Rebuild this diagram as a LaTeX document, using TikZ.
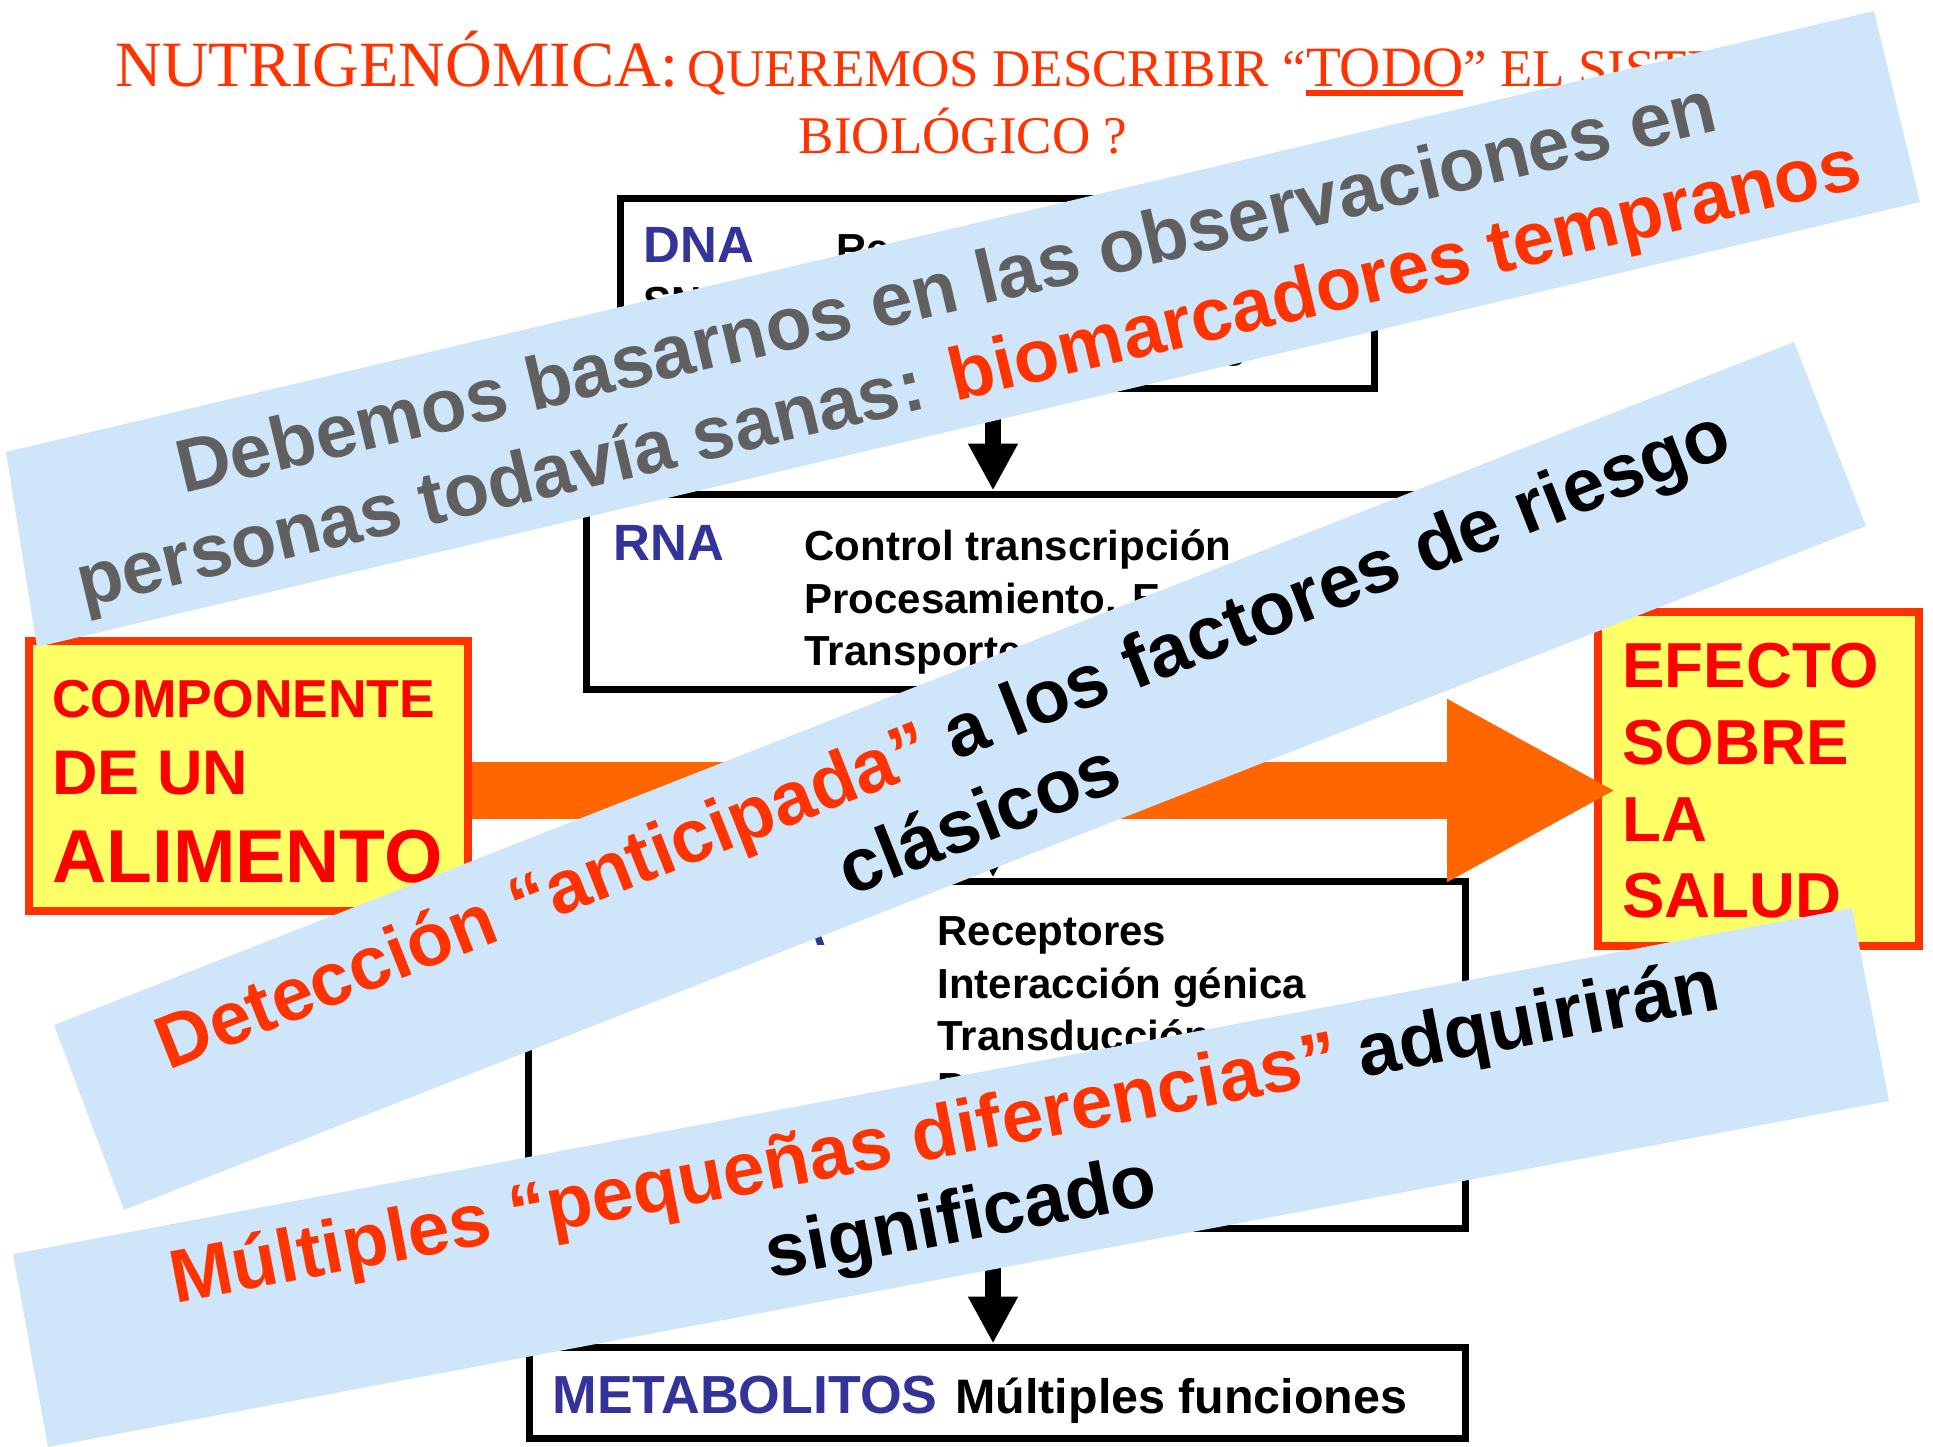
\documentclass[tikz,border=0pt]{standalone}
\usepackage{fontspec}
\setmainfont{Liberation Serif}
\newfontfamily\hv{Liberation Sans}
\usetikzlibrary{arrows.meta}
\definecolor{bandblue}{RGB}{207,230,250}
\definecolor{redor}{RGB}{255,51,0}
\definecolor{lblue}{RGB}{51,51,153}
\definecolor{yel}{RGB}{255,255,102}
\definecolor{pure}{RGB}{255,0,0}
\definecolor{orng}{RGB}{255,102,0}
\definecolor{gry}{RGB}{96,96,96}
\newcommand\myul[1]{\sbox0{#1}\rlap{\rule[-5pt]{\wd0}{2.8pt}}\usebox0}
\begin{document}
\begin{tikzpicture}[x=0.5pt,y=-0.5pt,
  flow/.style={draw=black,line width=3.5pt,fill=white,inner sep=0pt,rectangle},
  ybox/.style={draw=redor,line width=4pt,fill=yel,inner sep=0pt,rectangle},
  txt/.style={inner sep=0pt,anchor=base west,font=\hv\bfseries\fontsize{21pt}{25pt}\selectfont},
  lab/.style={inner sep=0pt,anchor=base west,text=lblue,font=\hv\bfseries\fontsize{25.5pt}{30pt}\selectfont},
  ytxt/.style={inner sep=0pt,anchor=base west,text=pure},
  bt/.style={inner sep=0pt,anchor=base,font=\hv\bfseries\fontsize{37.5pt}{45pt}\selectfont},
  blk/.style={line width=8pt,-{Triangle[length=23.5pt,width=23.5pt]}},
]
\useasboundingbox (0,0) rectangle (1933,1446);
\fill[white] (0,0) rectangle (1933,1446);

% title
\node[inner sep=0pt,anchor=base west,text=redor] (t1) at (115,86)
  {\fontsize{32.3pt}{39pt}\selectfont NUTRIGENÓMICA:\fontsize{26.5pt}{32pt}\selectfont\hspace{4.5pt}QUEREMOS DESCRIBIR “{\fontsize{28.5pt}{34pt}\selectfont\myul{TODO}}” EL SISTEMA};
\node[inner sep=0pt,anchor=base,text=redor,font=\fontsize{26.5pt}{32pt}\selectfont] (t2) at (963,153) {BIOLÓGICO ?};

% flow boxes
\node[flow,minimum width=377pt,minimum height=95pt] (dna) at (997,293) {};
\node[flow,minimum width=420pt,minimum height=97.5pt] (rna) at (1006,591.5) {};
\node[flow,minimum width=468.5pt,minimum height=173.5pt] (prot) at (996.5,1054.5) {};
\node[flow,minimum width=468pt,minimum height=45.5pt] (met) at (997,1392.5) {};

\node[lab] (dnal) at (643,262) {DNA};
\node[txt] (dn1) at (836,263) {Re};
\node[txt] (dn2) at (643,316) {SN};
\node[txt] (dn3) at (1221,357) {g};

\node[lab] (rnal) at (613,560) {RNA};
\node[txt] (r1) at (804,560) {Control transcripción};
\node[txt] (r2) at (804,613) {Procesamiento. E};
\node[txt] (r3) at (804,665) {Transporte};

\node[lab] (pl) at (562,945) {PROTEÍNA};
\node[txt] (p1) at (937,945) {Receptores};
\node[txt] (p2) at (937,998) {Interacción génica};
\node[txt] (p3) at (937,1050) {Transducción};
\node[txt] (p4) at (937,1102) {P};

\node[inner sep=0pt,anchor=base west,font=\hv\bfseries] (ml) at (552,1413)
  {\fontsize{26.8pt}{31pt}\selectfont\textcolor{lblue}{METABOLITOS}\hspace{9pt}\fontsize{24.2pt}{28pt}\selectfont Múltiples funciones};

% arrows
\coordinate (ax) at (993,0);
\draw[blk] (ax |- dna.south) -- (ax |- rna.north);
\draw[blk] (ax |- rna.south) -- (ax |- prot.north);
\draw[blk] (ax |- prot.south) -- (ax |- met.north);

% yellow boxes
\node[ybox,minimum width=219.5pt,minimum height=135pt] (comp) at (248.5,776) {};
\node[ytxt,font=\hv\bfseries\fontsize{26.7pt}{32pt}\selectfont] (c1) at (52,717) {COMPONENTE};
\node[ytxt,font=\hv\bfseries\fontsize{31.5pt}{38pt}\selectfont] (c2) at (52,794) {DE UN};
\node[ytxt,font=\hv\bfseries\fontsize{37.5pt}{45pt}\selectfont] (c3) at (52,882) {ALIMENTO};

\node[ybox,minimum width=160.5pt,minimum height=167pt] (efe) at (1758.5,779) {};
\node[ytxt,font=\hv\bfseries\fontsize{31.8pt}{38pt}\selectfont] (e1) at (1622,687) {EFECTO};
\node[ytxt,font=\hv\bfseries\fontsize{31.8pt}{38pt}\selectfont] (e2) at (1622,764) {SOBRE};
\node[ytxt,font=\hv\bfseries\fontsize{31.8pt}{38pt}\selectfont] (e3) at (1622,841) {LA};
\node[ytxt,font=\hv\bfseries\fontsize{31.8pt}{38pt}\selectfont] (e4) at (1622,917) {SALUD};

% orange arrow
\coordinate (oy) at (0,790.5);
\coordinate (ob) at (1617,790.5);
\draw[orng,line width=28.5pt,-{Triangle[length=85pt,width=85pt]}] (comp.east |- oy) -- (ob);

% bands
\fill[bandblue] (6,452) -- (1874,11) -- (1920,202) -- (37,647) -- cycle;
\node[bt,text=gry,rotate=13.3] (b1a) at (952,312) {Debemos basarnos en las observaciones en};
\node[bt,text=gry,rotate=13.3,font=\hv\bfseries\fontsize{37.2pt}{45pt}\selectfont] (b1b) at (974,397) {personas todavía sanas: \textcolor{redor}{biomarcadores tempranos}};

\fill[bandblue] (54,1025) -- (1794,342) -- (1866,526) -- (124,1210) -- cycle;
\node[bt,rotate=21.5] (b2a) at (952,762) {\textcolor{redor}{Detección “anticipada”} a los factores de riesgo};
\node[bt,rotate=21.5] (b2b) at (988,842) {clásicos};

\fill[bandblue] (13,1254) -- (1852,908) -- (1889,1101) -- (48,1447) -- cycle;
\node[bt,rotate=10.8] (b3a) at (949,1156) {\textcolor{redor}{Múltiples “pequeñas diferencias”} adquirirán};
\node[bt,rotate=10.8] (b3b) at (965,1241) {significado};
\end{tikzpicture}
\end{document}
